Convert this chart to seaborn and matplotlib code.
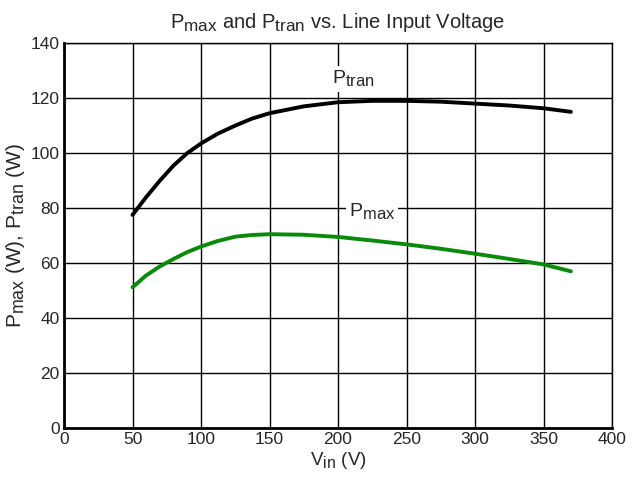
import numpy as np
import pandas as pd
import matplotlib.pyplot as plt
import matplotlib._mathtext as mathtext
import seaborn as sns

## data
vin = [50, 60, 70, 80, 90, 100, 112, 125, 137, 150, 175, 200, 225, 250, 275, 300, 325, 350, 370]
p_tran = [77.5, 84.0, 90.0, 95.5, 100.0, 103.5, 107.0, 110.0, 112.5, 114.5, 117.0, 118.5, 119.0, 119.0, 118.7, 118.0, 117.3, 116.3, 115.0]
p_max = [51.2, 55.5, 58.8, 61.5, 64.0, 66.0, 68.0, 69.6, 70.2, 70.5, 70.3, 69.5, 68.2, 66.8, 65.2, 63.4, 61.5, 59.5, 57.0]

dtf = pd.DataFrame({"Vin": vin * 2,
                    "P": p_tran + p_max,
                    "curve": ["Ptran"] * len(vin) + ["Pmax"] * len(vin)})

sns.set_style("white")
plt.rcParams['font.family'] = ['Liberation Sans', 'DejaVu Sans']
# bigger subscripts, like the original drawing
mathtext.SHRINK_FACTOR = 0.85

fig = plt.figure(figsize=(6.35, 4.9), dpi=100)
ax = fig.add_axes([0.1008, 0.1265, 0.863, 0.7855])

sns.lineplot(data=dtf, x="Vin", y="P", hue="curve",
             palette={"Ptran": "black", "Pmax": "#0a8a0a"},
             linewidth=2.8, legend=False, ax=ax, zorder=3)

ax.set_xlim(0, 400)
ax.set_ylim(0, 140)
ax.set_xticks(np.arange(0, 401, 50))
ax.set_yticks(np.arange(0, 141, 20))
ax.grid(True, color="black", linewidth=1.0)
ax.tick_params(axis="both", labelsize=12.5, length=0, pad=3)

for side in ["top", "right"]:
    ax.spines[side].set_linewidth(1.0)
    ax.spines[side].set_color("black")
for side in ["left", "bottom"]:
    ax.spines[side].set_linewidth(2.0)
    ax.spines[side].set_color("black")

box = dict(facecolor="white", edgecolor="none", pad=2)
ax.text(211, 127, r"P$_{\mathregular{tran}}$", fontsize=14, ha="center", va="center",
        bbox=box, zorder=4)
ax.text(225, 78.5, r"P$_{\mathregular{max}}$", fontsize=14, ha="center", va="center",
        bbox=box, zorder=4)

ax.set_xlabel(r"V$_{\mathregular{in}}$ (V)", fontsize=13.5, labelpad=2)
ax.set_ylabel(r"P$_{\mathregular{max}}$ (W), P$_{\mathregular{tran}}$ (W)", fontsize=15, labelpad=3)
ax.set_title(r"P$_{\mathregular{max}}$ and P$_{\mathregular{tran}}$ vs. Line Input Voltage",
             fontsize=14.5, pad=11)

fig.savefig("out.png", dpi=100)
